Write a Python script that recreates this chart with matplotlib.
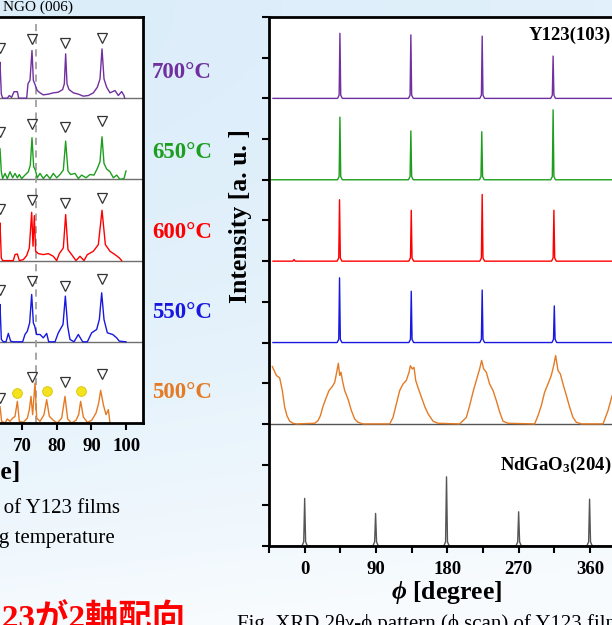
import numpy as np
import matplotlib
matplotlib.use("Agg")
import matplotlib.pyplot as plt
from matplotlib.ticker import FixedLocator, MultipleLocator

plt.rcParams['font.family'] = ['Liberation Serif', 'DejaVu Serif']
plt.rcParams['font.weight'] = 'bold'
plt.rcParams['mathtext.fontset'] = 'custom'
plt.rcParams['mathtext.rm'] = 'Liberation Serif:bold'
plt.rcParams['mathtext.it'] = 'Liberation Serif:italic:bold'
plt.rcParams['mathtext.bf'] = 'Liberation Serif:bold'

W, H = 612, 625

# ---- left chart: 2theta scans (intensity in panel units, 0 = panel baseline)
tth_700 = [62.5, 63.66, 64.04, 64.43, 65.77, 66.35, 67.0, 67.7, 68.66, 69.04, 71.34, 71.73, 72.3,
           72.88, 73.27, 73.65, 74.03, 74.4, 75.19, 76.15, 77.59, 79.03, 80.47, 81.72, 82.2,
           82.58, 82.97, 83.54, 84.79, 86.23, 87.68, 89.12, 90.56, 91.71, 92.48, 93.06, 93.63,
           94.4, 95.36, 96.8, 97.76, 98.72, 99.39, 99.59]
i_700 = [0.0, 0.443, 0.05, 0.0, 0.0, 0.033, 0.01, 0.08, 0.08, 0.0, 0.0, 0.18, 0.22,
         0.587, 0.22, 0.18, 0.135, 0.094, 0.066, 0.041, 0.05, 0.066, 0.074, 0.107, 0.177,
         0.546, 0.177, 0.107, 0.066, 0.05, 0.025, 0.033, 0.066, 0.135, 0.238, 0.607, 0.238,
         0.135, 0.066, 0.094, 0.033, 0.082, 0.033, 0.0]

tth_650 = [62.5, 63.66, 64.04, 64.43, 65.1, 65.77, 66.54, 67.31, 67.98, 68.66, 69.23, 69.9, 70.86,
           71.83, 72.4, 72.88, 73.36, 73.84, 74.4, 75.19, 76.15, 77.11, 78.07, 79.03, 79.99,
           80.95, 81.91, 82.58, 83.25, 84.02, 85.27, 86.23, 87.2, 88.44, 89.6, 90.75, 91.71,
           92.48, 93.06, 93.63, 94.4, 95.36, 96.32, 97.28, 98.24, 99.39, 99.97]
i_650 = [0.0, 0.38, 0.094, 0.01, 0.074, 0.01, 0.094, 0.02, 0.074, 0.02, 0.06, 0.01, 0.053,
         0.094, 0.177, 0.513, 0.156, 0.115, 0.02, 0.074, 0.01, 0.06, 0.01, 0.074, 0.02,
         0.06, 0.115, 0.472, 0.103, 0.06, 0.074, 0.01, 0.053, 0.02, 0.06, 0.053, 0.135,
         0.218, 0.525, 0.197, 0.127, 0.094, 0.02, 0.053, 0.0, 0.01, 0.103]

tth_600 = [62.5, 63.66, 64.04, 64.43, 67.5, 67.98, 68.66, 69.23, 70.38, 71.34, 72.11, 72.79, 73.17,
           73.55, 73.94, 74.71, 76.15, 77.59, 79.03, 79.99, 80.76, 81.91, 82.58, 83.25, 84.31,
           85.56, 86.71, 87.87, 88.83, 90.56, 92.0, 93.06, 94.02, 95.36, 96.8, 98.05, 98.72]
i_600 = [0.0, 0.464, 0.033, 0.0, 0.0, 0.074, 0.082, 0.0, 0.012, 0.062, 0.156, 0.595, 0.177,
         0.554, 0.115, 0.086, 0.074, 0.086, 0.053, 0.0, 0.086, 0.156, 0.567, 0.135, 0.074,
         0.0, 0.053, 0.0, 0.074, 0.115, 0.197, 0.62, 0.197, 0.115, 0.074, 0.033, 0.0]

tth_550 = [62.5, 63.66, 64.04, 64.62, 65.39, 66.06, 66.73, 67.5, 70.19, 70.86, 71.54, 72.21, 72.79,
           73.27, 73.65, 74.23, 75.19, 76.15, 77.11, 77.69, 79.51, 80.47, 81.82, 82.49, 83.16,
           83.83, 84.99, 86.23, 87.48, 88.83, 90.08, 91.52, 92.29, 92.96, 93.63, 94.59, 96.13,
           97.28, 98.05, 99.97]
i_550 = [0.0, 0.46, 0.03, 0.0, 0.0, 0.103, 0.008, 0.0, 0.0, 0.09, 0.131, 0.234, 0.583,
         0.234, 0.193, 0.09, 0.09, 0.049, 0.103, 0.0, 0.0, 0.111, 0.213, 0.562, 0.193,
         0.029, 0.0, 0.09, 0.0, 0.0, 0.111, 0.152, 0.275, 0.603, 0.275, 0.111, 0.09,
         0.049, 0.008, 0.0]

tth_500 = [62.5, 63.66, 64.14, 65.1, 65.77, 66.54, 67.31, 67.98, 68.66, 69.23, 70.38, 71.54, 72.11,
           72.59, 73.07, 73.75, 74.23, 75.19, 76.34, 77.11, 77.88, 79.03, 80.18, 81.43, 82.39,
           83.16, 84.31, 85.56, 86.33, 86.9, 87.68, 88.83, 90.08, 91.33, 92.1, 92.67, 93.44,
           94.21, 94.88, 95.36]
i_500 = [0.0, 0.205, 0.02, 0.0, 0.05, 0.02, 0.06, 0.08, 0.267, 0.02, 0.008, 0.06, 0.164,
         0.328, 0.103, 0.493, 0.062, 0.02, 0.103, 0.287, 0.082, 0.033, 0.0, 0.06, 0.328,
         0.05, 0.0, 0.033, 0.103, 0.267, 0.074, 0.008, 0.033, 0.123, 0.246, 0.402, 0.226,
         0.103, 0.164, 0.0]

# open triangles above the Y123 (00l) peaks
tri_2theta = [63.7, 72.9, 82.5, 93.0]
tri_700 = [0.62, 0.735, 0.674, 0.743]
tri_650 = [0.58, 0.686, 0.644, 0.714]
tri_600 = [0.637, 0.743, 0.71, 0.772]
tri_550 = [0.64, 0.743, 0.69, 0.776]
tri_500 = [0.304, 0.57, 0.51, 0.603]
# yellow dots on the 500 C scan
dot_2theta = [68.6, 77.1, 87.0]
dot_500 = [0.373, 0.40, 0.40]
ngo006_2theta = 74.0

temps = ['700', '650', '600', '550', '500']
temp_colors = ['#7030a0', '#1e9e1e', '#ff0000', '#1818e0', '#e47a24']

# ---- right chart: phi scans
phi_700 = [-40, 41.5, 43.5, 44.5, 45.5, 47.5, 131, 133, 134, 135, 137, 221, 223, 224, 225, 227,
           310.5, 312.5, 313.5, 314.5, 316.5, 405]
i_phi_700 = [0, 0, 0.08, 1.60, 0.08, 0, 0, 0.08, 1.56, 0.08, 0, 0, 0.08, 1.53, 0.08, 0,
             0, 0.08, 1.04, 0.08, 0, 0]
phi_650 = [-42, 41.5, 43.5, 44.5, 45.5, 47.5, 131, 133, 134, 135, 137, 220.5, 222.5, 223.5, 224.5,
           226.5, 310.5, 312.5, 313.5, 314.5, 316.5, 405]
i_phi_650 = [0, 0, 0.08, 1.54, 0.08, 0, 0, 0.08, 1.20, 0.08, 0, 0, 0.08, 1.18, 0.08, 0,
             0, 0.08, 1.72, 0.08, 0, 0]
phi_600 = [-40, -15, -13.5, -12, 41, 43, 44, 45, 47, 131.5, 133.5, 134.5, 135.5, 137.5, 221, 223,
           224, 225, 227, 311.5, 313.5, 314.5, 315.5, 317.5, 405]
i_phi_600 = [0, 0, 0.04, 0, 0, 0.08, 1.51, 0.08, 0, 0, 0.08, 1.25, 0.08, 0, 0, 0.08,
             1.64, 0.08, 0, 0, 0.08, 1.25, 0.08, 0, 0]
phi_550 = [-40, 41, 43, 44, 45, 47, 131.5, 133.5, 134.5, 135.5, 137.5, 221, 223, 224, 225, 227,
           312, 314, 315, 316, 318, 405]
i_phi_550 = [0, 0, 0.08, 1.59, 0.08, 0, 0, 0.08, 1.26, 0.08, 0, 0, 0.08, 1.29, 0.08, 0,
             0, 0.08, 0.90, 0.08, 0, 0]
phi_500 = [-40.8, -35.7, -31.5, -28.2, -25.2, -22.3, -18.9, -14.7, -10.5, 12.6, 16.8, 19.8, 23.1,
           26.5, 30.7, 34.9, 37.9, 40.8, 42.5, 44.2, 45.9, 47.6, 50.5, 54.7, 58.9, 63.1, 67.3,
           73.6, 107.3, 111.5, 115.7, 119.9, 124.1, 128.3, 131.7, 133.4, 135.9, 138.0, 140.1,
           143.1, 147.3, 151.5, 155.7, 162.0, 168.3, 195.6, 204.0, 208.2, 212.4, 216.6, 220.8,
           223.3, 225.9, 229.2, 233.4, 237.7, 241.9, 246.1, 250.3, 256.6, 290.2, 294.4, 298.6,
           302.8, 307.0, 311.2, 314.2, 316.7, 319.7, 322.6, 326.0, 330.2, 334.4, 338.6, 342.8,
           349.1, 376.5, 382.8, 387.4, 395, 405]
i_phi_500 = [1.41, 1.19, 1.13, 0.82, 0.41, 0.2, 0.066, 0.016, 0.0, 0.016, 0.08, 0.2, 0.43,
             0.61, 0.82, 0.92, 1.02, 1.31, 1.49, 1.19, 1.27, 1.07, 0.82, 0.61, 0.33, 0.12, 0.04,
             0.0, 0.0, 0.16, 0.49, 0.82, 0.98, 1.07, 1.27, 1.43, 1.35, 1.39, 1.07,
             0.89, 0.66, 0.43, 0.25, 0.066, 0.016, 0.0, 0.16, 0.45, 0.78, 1.07, 1.35,
             1.56, 1.35, 1.27, 0.98, 0.82, 0.57, 0.29, 0.066, 0.016, 0.0, 0.2, 0.45,
             0.78, 0.98, 1.19, 1.43, 1.68, 1.31, 1.23, 0.98, 0.7, 0.41, 0.16, 0.04,
             0.0, 0.0, 0.33, 0.66, 1.05, 1.4]
phi_ngo = [-45, -3.5, -1.2, 0, 1.2, 3.5, 86, 88.3, 89.5, 90.7, 93, 175.5, 177.8, 179, 180.2, 182.5,
           266.5, 268.8, 270, 271.2, 273.5, 356, 358.3, 359.5, 360.7, 363, 405]
i_phi_ngo = [0, 0, 0.1, 1.17, 0.1, 0, 0, 0.1, 0.80, 0.1, 0, 0, 0.1, 1.70, 0.1, 0,
             0, 0.1, 0.84, 0.1, 0, 0, 0.1, 1.15, 0.1, 0, 0]


def rect(px_left, px_top, px_w, px_h):
    return [px_left / W, 1 - (px_top + px_h) / H, px_w / W, px_h / H]


def ftext(px, py, s, **kw):
    fig.text(px / W, 1 - py / H, s, **kw)


fig = plt.figure(figsize=(W / 100, H / 100), dpi=100)

# slide background
bg = fig.add_axes([0, 0, 1, 1], zorder=-10)
yy, xx = np.mgrid[0:1:200j, 0:1:200j]
t = np.clip(0.9 * yy ** 2 + 0.2 * xx, 0, 1)[..., None]
c0 = np.array([0.86, 0.93, 0.98])
c1 = np.array([0.975, 0.988, 0.997])
bg.imshow(c0 + (c1 - c0) * t, extent=[0, 1, 0, 1], aspect='auto', origin='upper')
bg.axis('off')

# ---- left chart
ax1 = fig.add_axes(rect(22 - 50 * 3.47, 17, 85 * 3.47, 406))
ax1.set_xlim(20, 105)
ax1.set_ylim(0, 5)
for b in [1, 2, 3, 4]:
    ax1.axhline(b, color='#6e6e6e', lw=1, zorder=1)
ax1.axvline(ngo006_2theta, color='#a0a0a0', ls=(0, (4, 3)), lw=1.3, zorder=1.5)
scans = [(tth_700, i_700, tri_700), (tth_650, i_650, tri_650), (tth_600, i_600, tri_600),
         (tth_550, i_550, tri_550), (tth_500, i_500, tri_500)]
for k, ((x, y, tri), col) in enumerate(zip(scans, temp_colors)):
    base = 4 - k
    ax1.plot(x, np.array(y) + base, color=col, lw=1.0, zorder=2)
    ax1.plot(tri_2theta, np.array(tri) + base, ls='none', marker='v', ms=6.5,
             mfc='white', mec='#333333', mew=0.9, zorder=3)
ax1.plot(dot_2theta, dot_500, ls='none', marker='o', ms=7, mfc='#f3e31c', mec='#d9c20a',
         mew=0.6, zorder=3)
ax1.set_xticks([70, 80, 90, 100])
ax1.set_yticks([])
ax1.tick_params(axis='x', direction='out', length=5, width=1.5, pad=6, labelsize=13.5)
for s in ax1.spines.values():
    s.set_linewidth(2)

# ---- right chart
ax2 = fig.add_axes(rect(269, 17, 450 * 0.7925, 529))
ax2.set_xlim(-45, 405)
ax2.set_ylim(0, 13)
ax2.axhline(3, color='#555555', lw=1, zorder=1)
phi_scans = [(phi_700, i_phi_700, 11), (phi_650, i_phi_650, 9), (phi_600, i_phi_600, 7),
             (phi_550, i_phi_550, 5), (phi_500, i_phi_500, 3)]
for (x, y, base), col in zip(phi_scans, temp_colors):
    ax2.plot(x, np.array(y) + base, color=col, lw=1.0, zorder=2)
ax2.plot(phi_ngo, i_phi_ngo, color='#555555', lw=1.0, zorder=2)
ax2.xaxis.set_major_locator(FixedLocator([0, 90, 180, 270, 360]))
ax2.xaxis.set_minor_locator(MultipleLocator(45))
ax2.set_yticks(range(0, 14))
ax2.set_yticklabels([])
ax2.tick_params(which='both', direction='out', length=5, width=1.5)
ax2.tick_params(axis='x', pad=6, labelsize=13.5)
for s in ax2.spines.values():
    s.set_linewidth(2)

# ---- texts
ftext(3, 7, 'NGO (006)', fontsize=11, fontweight='normal', ha='left', va='center')
for k, (tp, col) in enumerate(zip(temps, temp_colors)):
    ftext(152, 72 + 80 * k, tp + '°C', fontsize=16.5, color=col, ha='left', va='center')
ftext(20, 473, '2θ [degree]', fontsize=18.5, ha='right', va='center')
ftext(120, 508, 'Fig. XRD θ-2θ pattern of Y123 films', fontsize=15, fontweight='normal',
      ha='right', va='center')
ftext(115, 538, 'with different annealing temperature', fontsize=15, fontweight='normal',
      ha='right', va='center')
ftext(185, 628, 'Y123が2軸配向', fontsize=24, color='#ff0000', ha='right', va='baseline',
      family=['Liberation Serif', 'Noto Sans CJK JP'])

ftext(240, 216, 'Intensity [a. u. ]', fontsize=18.5, rotation=90, ha='center', va='center')
ftext(447, 592, r'$\phi$ [degree]', fontsize=18.5, ha='center', va='center')
ftext(611, 35, 'Y123(103)', fontsize=13.5, ha='right', va='center')
ftext(611, 465, 'NdGaO$_3$(204)', fontsize=13.5, ha='right', va='center')
ftext(237, 629, 'Fig. XRD 2θχ-ϕ pattern (ϕ scan) of Y123 films', fontsize=15,
      fontweight='normal', ha='left', va='baseline')

fig.savefig('out.png', dpi=100)
